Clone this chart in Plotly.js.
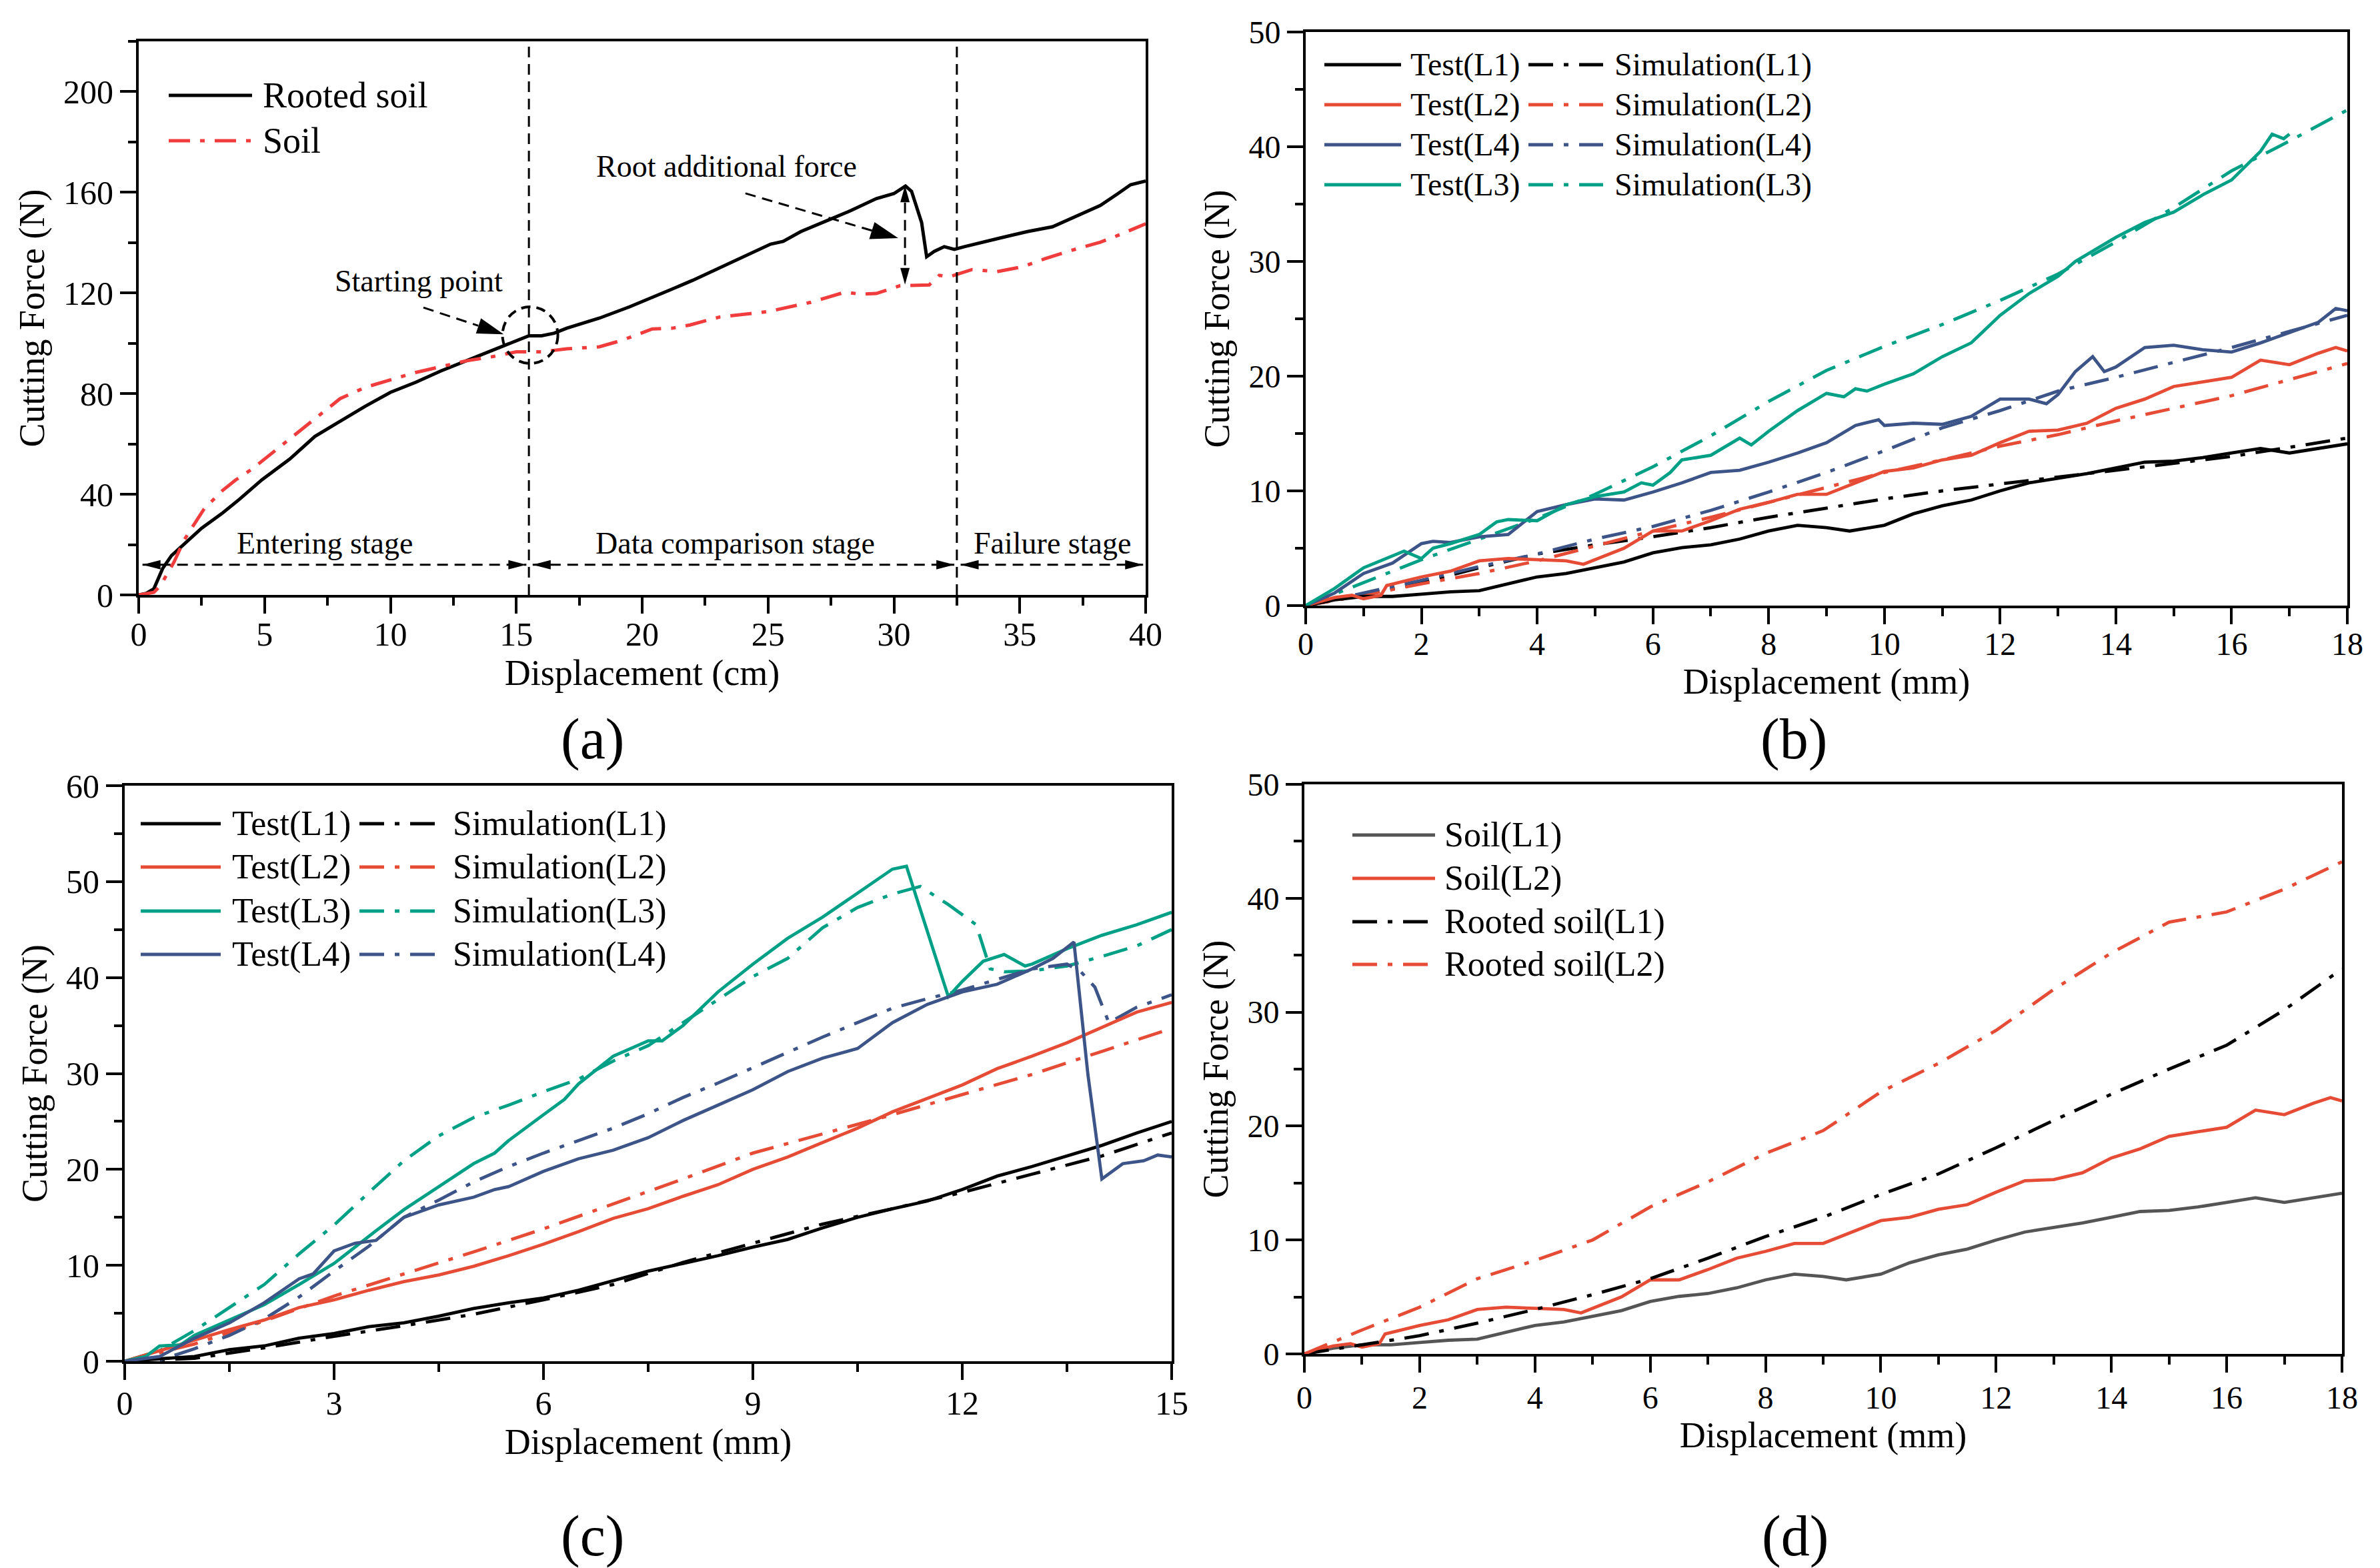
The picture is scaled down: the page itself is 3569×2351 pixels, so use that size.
<!DOCTYPE html>
<html><head><meta charset="utf-8">
<script src="https://cdn.plot.ly/plotly-3.0.1.min.js"></script>
<style>html,body{margin:0;padding:0;background:#fff}</style>
</head><body>
<div id="chart" style="width:3569px;height:2351px"></div>
<script>
// ---------------- DATA ----------------
// (a) Displacement (cm) vs Cutting force (N)
const aRootX = [0,0.3,0.6,0.95,1.3,1.9,2.5,3.3,4,4.9,6,7,8,9,10,11,12,13,14,15,15.5,16,16.5,17,18.3,19.5,20.3,21.2,22,22.75,23.8,25.1,25.6,26.3,27.4,28.3,29.3,30,30.46,30.7,31.1,31.3,31.6,32,32.4,32.8,34.2,35.3,36.3,37.3,38.2,38.9,39.4,40];
const aRootY = [0,0.6,2.4,10.5,15.6,21.2,26.5,32.3,38,45.8,54,63,69,75,80.5,84.5,89,93,97,101,103,103,104,106,110,114.5,118,121.6,125,128.5,133.6,139.4,140.5,144.4,149,152.8,157.5,159.5,162.5,160.4,148,134.4,136.5,138.4,137.3,138.4,141.8,144.4,146.3,150.8,154.8,159.5,163,164.5];
const aSoilX = [0,0.6,0.9,1.03,1.4,1.8,2.1,2.6,3.34,3.84,4.5,5,6,7,8,9,10,11,12,13,14,15,16,17,18.3,19.2,20.4,21.2,21.9,23.1,25,26.7,28.05,28.7,29.3,30.25,31.4,31.8,32.2,33.1,34.1,35.1,36,36.9,38.2,38.9,40];
const aSoilY = [0,1,4,6.6,13,21.7,26.5,34.2,41.6,45.6,50,54,62,70,78,82.5,85.5,88.4,90.7,93,94.6,96.6,96.6,97.8,98.6,101.2,105.7,106,107.3,110.5,112.6,116.3,120.3,119.5,119.8,122.9,123.2,127,126.4,129.3,128.5,130.4,133.6,136.5,140.2,142.9,147.5];
const aStageBounds = [15.5, 32.5];
const aStageLabels = ['Entering stage', 'Data comparison stage', 'Failure stage'];
const aStageLabelX = [7.4, 23.7, 36.3];

// (b) Displacement (mm), 0-18
const bTestL1X = [0,0.5,1,1.5,2,2.5,3,3.5,4,4.5,5,5.5,6,6.5,7,7.5,8,8.5,9,9.4,10,10.5,11,11.5,12,12.5,13,13.5,14,14.5,15,15.5,16,16.5,17,17.5,18];
const bTestL1Y = [0,0.5,0.8,0.8,1.0,1.2,1.3,1.9,2.5,2.8,3.3,3.8,4.6,5.05,5.3,5.8,6.5,7.0,6.8,6.5,7.0,8.0,8.7,9.2,10.0,10.7,11.1,11.5,12.0,12.5,12.6,12.9,13.3,13.7,13.3,13.7,14.1];
const bTestL2X = [0,0.5,0.8,1,1.3,1.4,2,2.5,3,3.5,4,4.5,4.8,5,5.5,6,6.5,7,7.5,8,8.5,9,9.5,10,10.5,11,11.5,12,12.5,13,13.5,14,14.5,15,15.5,16,16.5,17,17.5,17.8,18];
const bTestL2Y = [0,0.7,0.9,0.6,0.9,1.75,2.5,3.0,3.9,4.1,4.0,3.9,3.6,4.0,5.0,6.5,6.5,7.4,8.4,9.0,9.7,9.7,10.7,11.7,12.0,12.7,13.1,14.2,15.2,15.3,15.9,17.2,18.0,19.1,19.5,19.9,21.4,21.0,22.0,22.5,22.2];
const bTestL4X = [0,0.5,1,1.5,2,2.2,2.5,3,3.5,4,4.5,5,5.5,6,6.5,7,7.5,8,8.5,9,9.5,9.9,10,10.5,11,11.5,12,12.5,12.8,13,13.3,13.6,13.8,14,14.5,15,15.5,16,16.5,17,17.5,17.8,18];
const bTestL4Y = [0,1.1,2.8,3.7,5.4,5.6,5.5,6.0,6.2,8.2,8.8,9.3,9.2,9.9,10.7,11.6,11.8,12.5,13.3,14.2,15.7,16.2,15.7,15.9,15.8,16.5,18.0,18.0,17.6,18.4,20.4,21.7,20.4,20.8,22.5,22.7,22.3,22.1,22.9,23.8,24.7,25.9,25.7];
const bTestL3X = [0,0.5,1,1.5,1.7,2,2.2,2.5,3,3.3,3.5,4,4.5,5,5.5,5.8,6,6.3,6.5,7,7.5,7.7,8,8.5,9,9.3,9.5,9.7,10,10.5,11,11.5,12,12.5,13,13.3,13.5,14,14.5,15,15.5,16,16.5,16.7,16.9,17];
const bTestL3Y = [0,1.5,3.3,4.3,4.75,4.1,5.0,5.4,6.2,7.3,7.5,7.4,8.8,9.5,9.9,10.7,10.5,11.6,12.7,13.1,14.6,14.0,15.2,17.0,18.5,18.2,18.9,18.7,19.3,20.2,21.7,22.9,25.3,27.2,28.7,30.0,30.6,32.1,33.4,34.3,35.8,37.1,39.6,41.1,40.7,41.1];
const bSimX   = [0,1,2,3,4,5,6,7,8,9,10,11,12,13,14,15,16,17,18];
const bSimL1Y = [0,0.9,2.0,3.3,4.5,5.3,6.0,6.8,7.7,8.5,9.3,10.0,10.6,11.2,11.8,12.4,13.0,13.8,14.6];
const bSimL2Y = [0,0.9,1.9,2.8,3.9,5.2,6.5,7.7,9.0,10.3,11.6,12.7,13.9,14.9,16.1,17.2,18.3,19.7,21.1];
const bSimL4Y = [0,1.1,2.2,3.4,4.5,5.8,6.9,8.3,9.9,11.6,13.5,15.5,17.0,18.7,19.9,21.2,22.5,23.9,25.3];
const bSimL3Y = [0,2.0,4.0,5.8,7.6,9.7,12.1,14.8,17.8,20.5,22.6,24.5,26.6,28.9,31.7,34.7,37.9,40.5,43.2];

// (c) Displacement (mm), 0-15
const cX = [0,0.5,1,1.5,2,2.5,3,3.5,4,4.5,5,5.5,6,6.5,7,7.5,8,8.5,9,9.5,10,10.5,11,11.5,12,12.5,13,13.5,14,14.5,15];
const cTestL1Y = [0,0.27,0.5,1.2,1.6,2.4,2.9,3.6,4.0,4.7,5.5,6.1,6.6,7.4,8.4,9.4,10.2,11.0,11.9,12.7,13.9,15.0,15.9,16.7,17.9,19.3,20.3,21.4,22.5,23.8,25.0];
const cTestL2Y = [0,1.1,2.2,3.3,4.3,5.6,6.4,7.4,8.3,9.0,9.9,11.0,12.2,13.5,14.9,15.9,17.2,18.4,20.0,21.3,22.8,24.3,26.0,27.4,28.8,30.5,31.8,33.2,34.8,36.4,37.4];
const cTestL3X = [0,0.3,0.5,0.8,1,1.5,2,2.5,3,3.6,4,4.5,5,5.3,5.5,6,6.3,6.5,7,7.5,7.7,8,8.5,9,9.5,10,10.5,11,11.2,11.5,11.8,12,12.3,12.6,12.9,13,13.5,14,14.5,15];
const cTestL3Y = [0,0.5,1.6,1.7,2.7,4.3,5.9,8.0,10.2,13.6,15.8,18.2,20.6,21.7,23.0,25.7,27.3,28.9,31.8,33.4,33.4,35.0,38.5,41.4,44.1,46.3,48.8,51.3,51.6,44.9,38.0,39.6,41.7,42.4,41.2,41.4,43.0,44.4,45.5,46.8];
const cTestL4X = [0,0.5,1,1.5,2,2.5,2.7,3,3.3,3.6,4,4.3,4.5,5,5.3,5.5,6,6.5,7,7.5,8,8.5,9,9.5,10,10.5,11,11.5,12,12.5,13,13.3,13.6,13.8,14,14.3,14.6,14.8,15];
const cTestL4Y = [0,0.5,2.4,4.0,6.1,8.6,9.1,11.5,12.3,12.6,15.0,15.8,16.3,17.1,17.9,18.2,19.8,21.1,22.0,23.3,25.1,26.7,28.3,30.2,31.6,32.6,35.3,37.2,38.5,39.3,40.9,42.0,43.7,29.9,19.0,20.6,20.9,21.5,21.3];
const cSimX   = [0,1,2,3,4,5,6,7,8,9,10,11,12,13,14,15];
const cSimL1Y = [0,0.3,1.4,2.6,3.7,4.9,6.4,8.0,10.3,12.3,14.3,15.9,17.6,19.5,21.4,23.8];
const cSimL2Y = [0,1.8,4.2,6.8,9.1,11.4,13.8,16.4,19.0,21.7,23.7,25.7,27.8,29.9,32.3,34.7];
const cSimL3X = [0,0.5,1,1.5,2,2.5,3,3.5,4,4.5,5,5.5,6,6.5,7,7.5,8,8.5,9,9.5,10,10.5,11,11.4,11.8,12.2,12.4,12.6,13,13.5,14,14.5,15];
const cSimL3Y = [0,1.1,3.2,5.6,8.0,11.2,14.2,17.6,20.9,23.5,25.4,26.7,28.1,29.4,31.3,32.9,35.3,37.7,40.1,42.0,45.2,47.3,48.7,49.5,47.6,45.5,40.9,40.6,40.7,41.2,42.2,43.3,45.0];
const cSimL4X = [0,0.5,1,1.5,2,2.5,3,3.5,4,4.5,5,5.5,6,6.5,7,7.5,8,8.5,9,9.5,10,10.5,11,11.5,12,12.5,13,13.5,13.7,13.9,14.1,14.5,15];
const cSimL4Y = [0,0.1,1.3,2.7,4.4,6.7,9.4,12.0,15.0,16.8,18.7,20.3,21.7,23.0,24.3,25.8,27.5,29.0,30.6,32.2,33.8,35.3,36.8,37.8,38.7,39.8,40.9,41.4,40.6,39.0,35.3,36.9,38.2];

// (d) Displacement (mm), 0-18 (soil curves are the (b) L1/L2 tests)
const dRootX   = [0,1,2,3,4,5,6,7,8,9,10,11,12,13,14,15,16,17,18];
const dRootL1Y = [0,0.8,1.6,2.7,3.9,5.2,6.6,8.4,10.3,12.0,14.0,15.8,18.1,20.5,22.8,25.0,27.1,30.2,33.8];
const dRootL2Y = [0,2.1,4.1,6.6,8.2,10.0,12.9,15.1,17.6,19.6,23.0,25.5,28.4,32.0,35.2,37.9,38.8,40.8,43.2];

const panelLabels = ['(a)', '(b)', '(c)', '(d)'];

// ---------------- STYLE ----------------
const W = 3569, H = 2351;
const FONT = 'Liberation Serif, Times New Roman, serif';
const BLACK = '#000000', RED_A = '#F03C3C', RED = '#E64B35', BLUE = '#3C5488', GREEN = '#00A087', GREY = '#555555';
const DASH_A = '32px,15px,7px,15px';
const DASH = '37px,16px,7px,16px';
const px = v => v / W, py = v => 1 - v / H;

// series list: data + style + legend slot
const series = [
  {p:'a', x:aRootX, y:aRootY, name:'Rooted soil', color:BLACK, dash:'solid', w:5, col:0, row:0},
  {p:'a', x:aSoilX, y:aSoilY, name:'Soil', color:RED_A, dash:DASH_A, w:5, col:0, row:1},

  {p:'b', x:bSimX, y:bSimL1Y, name:'Simulation(L1)', color:BLACK, dash:DASH, w:4.8, col:1, row:0},
  {p:'b', x:bSimX, y:bSimL2Y, name:'Simulation(L2)', color:RED, dash:DASH, w:4.8, col:1, row:1},
  {p:'b', x:bSimX, y:bSimL4Y, name:'Simulation(L4)', color:BLUE, dash:DASH, w:4.8, col:1, row:2},
  {p:'b', x:bSimX, y:bSimL3Y, name:'Simulation(L3)', color:GREEN, dash:DASH, w:4.8, col:1, row:3},
  {p:'b', x:bTestL1X, y:bTestL1Y, name:'Test(L1)', color:BLACK, dash:'solid', w:4.8, col:0, row:0},
  {p:'b', x:bTestL2X, y:bTestL2Y, name:'Test(L2)', color:RED, dash:'solid', w:4.8, col:0, row:1},
  {p:'b', x:bTestL4X, y:bTestL4Y, name:'Test(L4)', color:BLUE, dash:'solid', w:4.8, col:0, row:2},
  {p:'b', x:bTestL3X, y:bTestL3Y, name:'Test(L3)', color:GREEN, dash:'solid', w:4.8, col:0, row:3},

  {p:'c', x:cSimX, y:cSimL1Y, name:'Simulation(L1)', color:BLACK, dash:DASH, w:4.8, col:1, row:0},
  {p:'c', x:cSimX, y:cSimL2Y, name:'Simulation(L2)', color:RED, dash:DASH, w:4.8, col:1, row:1},
  {p:'c', x:cSimL3X, y:cSimL3Y, name:'Simulation(L3)', color:GREEN, dash:DASH, w:4.8, col:1, row:2},
  {p:'c', x:cSimL4X, y:cSimL4Y, name:'Simulation(L4)', color:BLUE, dash:DASH, w:4.8, col:1, row:3},
  {p:'c', x:cX, y:cTestL1Y, name:'Test(L1)', color:BLACK, dash:'solid', w:4.8, col:0, row:0},
  {p:'c', x:cX, y:cTestL2Y, name:'Test(L2)', color:RED, dash:'solid', w:4.8, col:0, row:1},
  {p:'c', x:cTestL3X, y:cTestL3Y, name:'Test(L3)', color:GREEN, dash:'solid', w:4.8, col:0, row:2},
  {p:'c', x:cTestL4X, y:cTestL4Y, name:'Test(L4)', color:BLUE, dash:'solid', w:4.8, col:0, row:3},

  {p:'d', x:bTestL1X, y:bTestL1Y, name:'Soil(L1)', color:GREY, dash:'solid', w:4.8, col:0, row:0},
  {p:'d', x:bTestL2X, y:bTestL2Y, name:'Soil(L2)', color:RED, dash:'solid', w:4.8, col:0, row:1},
  {p:'d', x:dRootX, y:dRootL1Y, name:'Rooted soil(L1)', color:BLACK, dash:DASH, w:4.8, col:0, row:2},
  {p:'d', x:dRootX, y:dRootL2Y, name:'Rooted soil(L2)', color:RED, dash:DASH, w:4.8, col:0, row:3}
];

const AX = {a:['x','y'], b:['x2','y2'], c:['x3','y3'], d:['x4','y4']};
const LEG = {
  a:{cols:[[253,378,392]], rows:[143,211], size:54},
  b:{cols:[[1986,2101,2113],[2292,2404,2419]], rows:[97,157,217,277], size:48},
  c:{cols:[[211,331,346],[539,660,677]], rows:[1235,1300,1366,1431], size:52},
  d:{cols:[[2028,2152,2164]], rows:[1252,1317,1382,1446], size:52}
};

const traces = series.map(s => ({
  type:'scatter', mode:'lines', x:s.x, y:s.y, name:s.name,
  xaxis:AX[s.p][0], yaxis:AX[s.p][1],
  line:{color:s.color, width:s.w, dash:s.dash}, showlegend:false, hoverinfo:'skip'
}));

const shapes = [], annotations = [];
// manual legends built from series
series.forEach(s => {
  const L = LEG[s.p], c = L.cols[s.col], ry = L.rows[s.row];
  shapes.push({type:'line', xref:'paper', yref:'paper', x0:px(c[0]), x1:px(c[1]), y0:py(ry), y1:py(ry),
    line:{color:s.color, width:5, dash:s.dash}});
  annotations.push({xref:'paper', yref:'paper', x:px(c[2]), y:py(ry), xanchor:'left', yanchor:'middle',
    text:s.name, showarrow:false, font:{family:FONT, size:L.size, color:'#000'}});
});

// axes
function axis(domain, range, dtick, mdtick, anchor, title, tfs, standoff, lblShift) {
  return {domain, range, dtick, tick0:0, anchor, showline:true, linecolor:'#000', linewidth:4, mirror:true,
    ticks:'outside', ticklen:24, tickwidth:4, tickcolor:'#000', ticklabelstandoff:lblShift || 0,
    minor:{dtick:mdtick, tick0:0, ticks:'outside', ticklen:12, tickwidth:4, tickcolor:'#000', showgrid:false},
    showgrid:false, zeroline:false, automargin:false, fixedrange:true,
    tickfont:{family:FONT, size:tfs, color:'#000'},
    title:{text:title, font:{family:FONT, size:54, color:'#000'}, standoff}};
}
const XT_CM = 'Displacement (cm)', XT_MM = 'Displacement (mm)', YT = 'Cutting Force (N)';

// (a) annotations: stage dividers, arrows, circle, texts
const dashLine = {color:'#000', width:3, dash:'16px,10px'};
aStageBounds.forEach(b => shapes.push({type:'line', xref:'x', yref:'y', x0:b, x1:b, y0:0, y1:220, line:dashLine}));
const stageEdges = [0, aStageBounds[0], aStageBounds[1], 40];
const arrowY = 12;
function head(xr, yr, xa, ya, path) {
  shapes.push({type:'path', xref:xr, yref:yr, xsizemode:'pixel', ysizemode:'pixel', xanchor:xa, yanchor:ya,
    path, fillcolor:'#000', line:{width:0}});
}
for (let i = 0; i < 3; i++) {
  const l = stageEdges[i] + 0.15, r = stageEdges[i+1] - 0.1;
  shapes.push({type:'line', xref:'x', yref:'y', x0:l, x1:r, y0:arrowY, y1:arrowY, line:dashLine});
  head('x','y', l, arrowY, 'M0,0 L27,7 L27,-7 Z');
  head('x','y', r, arrowY, 'M0,0 L-27,7 L-27,-7 Z');
  annotations.push({xref:'x', yref:'y', x:aStageLabelX[i], y:20.5, text:aStageLabels[i], showarrow:false,
    xanchor:'center', yanchor:'middle', font:{family:FONT, size:46, color:'#000'}});
}
// Root additional force
annotations.push({xref:'x', yref:'y', x:23.36, y:170.2, text:'Root additional force', showarrow:false,
  xanchor:'center', yanchor:'middle', font:{family:FONT, size:46, color:'#000'}});
shapes.push({type:'line', xref:'x', yref:'y', x0:24.1, y0:159.6, x1:29.13, y1:144.8, line:dashLine});
head('x','y', 30.17, 141.8, 'M0,0 L-35.5,24 L-43.5,-1.4 Z');
// vertical double arrow (root additional force magnitude)
shapes.push({type:'line', xref:'x', yref:'y', x0:30.44, x1:30.44, y0:131, y1:156, line:dashLine});
head('x','y', 30.44, 162.7, 'M0,0 L-7,-25 L7,-25 Z');
head('x','y', 30.44, 123.3, 'M0,0 L-7,25 L7,25 Z');
// Starting point
annotations.push({xref:'x', yref:'y', x:11.13, y:124.8, text:'Starting point', showarrow:false,
  xanchor:'center', yanchor:'middle', font:{family:FONT, size:46, color:'#000'}});
shapes.push({type:'line', xref:'x', yref:'y', x0:11.31, y0:114.2, x1:13.49, y1:107.0, line:dashLine});
head('x','y', 14.5, 103.6, 'M0,0 L-34.1,24 L-41.7,1.2 Z');
shapes.push({type:'circle', xref:'x', yref:'y', x0:14.45, x1:16.65, y0:92, y1:114.5,
  line:{color:'#000', width:4, dash:'14px,9px'}});

// panel labels
const labelPos = [[888,1108],[2690,1108],[888,2303],[2692,2303]];
panelLabels.forEach((t,i) => annotations.push({xref:'paper', yref:'paper', x:px(labelPos[i][0]), y:py(labelPos[i][1]),
  text:t, showarrow:false, xanchor:'center', yanchor:'middle', font:{family:FONT, size:86, color:'#000'}}));

const layout = {
  width:W, height:H, margin:{l:0, r:0, t:0, b:0}, paper_bgcolor:'#fff', plot_bgcolor:'#fff', showlegend:false,
  font:{family:FONT, color:'#000'},
  xaxis:  axis([px(208), px(1718)], [0,40], 5, 2.5, 'y',  XT_CM, 50, 8, -12),
  yaxis:  axis([py(892), py(62)],   [0,220], 40, 20, 'x', YT, 50, 12),
  xaxis2: axis([px(1958), px(3520)], [0,18], 2, 1, 'y2', XT_MM, 48, 8, -12),
  yaxis2: axis([py(908), py(48)],    [0,50], 10, 5, 'x2', YT, 48, 12),
  xaxis3: axis([px(187), px(1757)],  [0,15], 3, 1.5, 'y3', XT_MM, 50, 8, -8),
  yaxis3: axis([py(2041), py(1178)], [0,60], 10, 5, 'x3', YT, 50, 12),
  xaxis4: axis([px(1956), px(3512)], [0,18], 2, 1, 'y4', XT_MM, 48, 8, -4),
  yaxis4: axis([py(2030), py(1176)], [0,50], 10, 5, 'x4', YT, 48, 12),
  shapes, annotations
};
Plotly.newPlot('chart', traces, layout, {staticPlot:true, displayModeBar:false});
</script>
</body></html>
